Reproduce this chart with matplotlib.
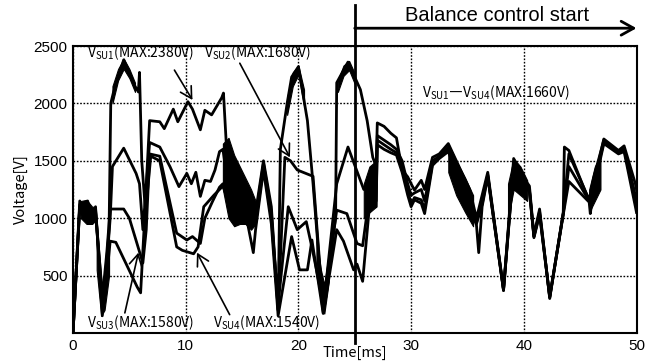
import numpy as np
from matplotlib import pyplot as plt

plt.rcParams['font.family'] = ['Liberation Sans', 'DejaVu Sans']
plt.rcParams['mathtext.fontset'] = 'custom'
plt.rcParams['mathtext.rm'] = 'Noto Sans CJK JP'

# (time [ms], voltage [V])
su1 = [(0, 0), (0.6, 1150), (1.0, 1050), (1.3, 1150), (1.7, 1000), (2.0, 1100), (2.6, 150),
       (3.2, 900), (3.35, 2000), (3.6, 2100), (4.5, 2380), (5.5, 2150), (5.8, 2100), (5.9, 2270),
       (6.1, 1500), (6.4, 1100), (6.8, 1850), (7.7, 1840), (8.1, 1780), (8.9, 1950), (9.3, 1840),
       (10.2, 2015), (10.6, 1950), (11.3, 1770), (11.7, 1940), (12.3, 1900), (13.2, 2050),
       (13.35, 2090), (13.6, 1650), (14.5, 1450), (15.5, 1250), (16.2, 1050), (16.9, 1500),
       (17.6, 1100), (18.2, 200), (18.4, 1600), (19.0, 2000), (19.4, 2230), (20.0, 2320),
       (20.8, 1850), (21.3, 1300), (22.2, 180), (23.3, 1000), (23.4, 2180), (24.4, 2360),
       (25.5, 2120), (26.1, 1850), (26.6, 1530), (26.9, 1450), (27.0, 1830), (27.6, 1800),
       (28.2, 1740), (28.7, 1700), (29.2, 1420), (29.7, 1360), (30.0, 1300), (30.3, 1245),
       (30.9, 1330), (31.2, 1250), (31.9, 1530), (32.5, 1560), (33.3, 1650), (35.2, 1250),
       (35.8, 1000), (36.3, 1200), (36.8, 1400), (38.2, 380), (39.1, 1520), (40.0, 1350),
       (40.5, 1280), (40.9, 850), (41.4, 1080), (42.3, 300), (43.5, 1050), (43.6, 1620),
       (44.0, 1590), (45.8, 1150), (46.2, 1300), (47.1, 1690), (48.4, 1590), (48.9, 1630),
       (49.9, 1300), (50.0, 1250)]
su2 = [(0, 0), (0.6, 1100), (1.0, 1000), (1.3, 1120), (1.7, 980), (2.0, 1050), (2.7, 220),
       (3.3, 1000), (3.5, 1450), (4.5, 1610), (5.6, 1390), (5.9, 1300), (6.2, 900), (6.8, 1660),
       (7.7, 1620), (8.6, 1450), (9.4, 1275), (10.1, 1390), (10.5, 1300), (10.9, 1400),
       (11.3, 1190), (11.7, 1330), (12.2, 1320), (12.6, 1420), (13.0, 1580), (13.3, 1600),
       (13.6, 1400), (14.5, 1250), (15.5, 1150), (16.2, 1000), (16.9, 1480), (17.6, 1050),
       (18.2, 200), (18.8, 1530), (19.3, 1500), (19.9, 1420), (21.3, 1365), (22.2, 200),
       (23.4, 1300), (24.4, 1620), (25.8, 1250), (26.3, 1350), (26.9, 1300), (27.0, 1720),
       (27.6, 1680), (28.2, 1640), (28.7, 1600), (29.2, 1500), (29.7, 1300), (30.0, 1200),
       (30.3, 1220), (30.9, 1250), (31.2, 1150), (31.9, 1500), (32.5, 1540), (33.3, 1620),
       (35.2, 1200), (35.8, 960), (36.3, 1150), (36.8, 1380), (38.2, 370), (39.1, 1480),
       (40.0, 1320), (40.5, 1250), (40.9, 840), (41.4, 1060), (42.3, 310), (43.5, 1040),
       (44.0, 1560), (45.8, 1160), (46.2, 1350), (47.1, 1680), (48.4, 1580), (48.9, 1610),
       (49.9, 1200), (50.0, 1150)]
su3 = [(0, 0), (0.6, 1120), (1.0, 1020), (1.3, 1100), (1.7, 990), (2.0, 1080), (2.6, 300),
       (3.0, 700), (3.3, 1080), (4.5, 1080), (5.0, 1000), (6.2, 610), (6.5, 900), (6.8, 1560),
       (7.7, 1540), (9.2, 870), (10.1, 810), (10.6, 840), (11.3, 780), (11.7, 1000), (12.4, 1150),
       (13.0, 1270), (13.3, 1300), (13.6, 1300), (14.5, 1100), (15.5, 1050), (16.2, 950),
       (16.9, 1450), (17.6, 1000), (18.2, 250), (19.1, 1100), (19.9, 900), (20.7, 970),
       (21.3, 700), (22.2, 250), (23.4, 1070), (24.3, 1040), (25.2, 780), (25.7, 760),
       (26.3, 1200), (26.9, 1150), (27.0, 1680), (27.6, 1640), (28.2, 1600), (28.7, 1570),
       (29.2, 1450), (29.7, 1250), (30.0, 1120), (30.3, 1180), (30.9, 1160), (31.2, 1080),
       (31.9, 1480), (32.5, 1530), (33.3, 1600), (35.2, 1150), (35.8, 950), (36.3, 1120),
       (36.8, 1370), (38.2, 380), (39.1, 1460), (40.0, 1300), (40.5, 1240), (40.9, 840),
       (41.4, 1040), (42.3, 320), (43.5, 1040), (44.0, 1450), (45.8, 1150), (46.2, 1300),
       (47.1, 1660), (48.4, 1570), (48.9, 1600), (49.9, 1150), (50.0, 1100)]
su4 = [(0, 0), (0.6, 1100), (1.0, 1000), (1.3, 1080), (1.7, 970), (2.0, 1060), (2.6, 250),
       (3.0, 500), (3.3, 800), (3.8, 790), (5.7, 400), (6.0, 350), (6.3, 900), (6.9, 1540),
       (7.7, 1500), (9.2, 750), (9.7, 720), (10.7, 690), (11.1, 750), (11.6, 1100), (12.5, 1200),
       (13.0, 1250), (13.3, 1280), (13.6, 1200), (14.5, 1000), (15.5, 950), (16.0, 700),
       (16.2, 900), (16.9, 1420), (17.6, 950), (18.2, 150), (19.4, 840), (20.1, 550),
       (20.8, 550), (21.2, 810), (22.2, 170), (23.4, 900), (24.0, 800), (24.9, 550), (25.2, 600),
       (25.7, 450), (26.3, 1100), (26.9, 1100), (27.0, 1640), (27.6, 1600), (28.2, 1570),
       (28.7, 1550), (29.2, 1400), (29.7, 1200), (30.0, 1100), (30.3, 1160), (30.9, 1130),
       (31.2, 1040), (31.9, 1460), (32.5, 1520), (33.3, 1580), (35.2, 1100), (35.8, 940),
       (36.0, 700), (36.3, 1100), (36.8, 1360), (38.2, 370), (39.1, 1440), (40.0, 1290),
       (40.5, 1230), (40.9, 830), (41.4, 1030), (42.3, 310), (43.5, 1030), (44.0, 1320),
       (45.8, 1140), (45.9, 1040), (46.2, 1250), (47.1, 1650), (48.4, 1560), (48.9, 1580),
       (49.9, 1100), (50.0, 1050)]

# ripple envelopes (switching oscillation), low / high edge
band_0_t = [0.7, 1.2, 1.7, 2.0]
band_0_lo = [1000, 950, 950, 980]
band_0_hi = [1150, 1160, 1100, 1100]
band_v1_t = [2.1, 2.5, 2.8, 3.2]
band_v1_lo = [550, 150, 200, 500]
band_v1_hi = [850, 420, 480, 800]
band_a_t = [13.3, 13.8, 14.3, 14.8, 15.3, 15.8, 16.2]
band_a_lo = [1250, 1000, 930, 950, 950, 900, 950]
band_a_hi = [1650, 1700, 1550, 1450, 1350, 1250, 1150]
band_v2_t = [21.6, 22.0, 22.3, 22.7]
band_v2_lo = [600, 250, 170, 450]
band_v2_hi = [800, 550, 420, 700]
band_b_t = [25.8, 26.3, 26.9]
band_b_lo = [1000, 1050, 1100]
band_b_hi = [1300, 1450, 1500]
band_c_t = [33.3, 34.0, 34.8, 35.5]
band_c_lo = [1400, 1200, 1050, 930]
band_c_hi = [1650, 1500, 1350, 1200]
band_d_t = [38.6, 39.1, 39.7, 40.3]
band_d_lo = [1000, 1250, 1200, 1150]
band_d_hi = [1300, 1520, 1450, 1330]
band_e_t = [45.8, 46.3, 46.8]
band_e_lo = [1050, 1150, 1250]
band_e_hi = [1250, 1450, 1550]
peak1_t = [3.5, 4.0, 4.5, 5.0, 5.5]
peak1_lo = [2000, 2200, 2300, 2220, 2100]
peak1_hi = [2150, 2300, 2390, 2300, 2180]
peak2_t = [19.0, 19.5, 20.0, 20.5]
peak2_lo = [1900, 2150, 2250, 1980]
peak2_hi = [2050, 2270, 2330, 2120]
peak3_t = [23.5, 24.0, 24.5, 25.0]
peak3_lo = [2100, 2240, 2290, 2170]
peak3_hi = [2200, 2330, 2370, 2260]

x_ticks = [0, 10, 20, 30, 40, 50]
y_ticks = [500, 1000, 1500, 2000, 2500]
balance_start = 25

labels = ['V$_{\\mathrm{SU1}}$(MAX:2380V)', 'V$_{\\mathrm{SU2}}$(MAX:1680V)',
          'V$_{\\mathrm{SU3}}$(MAX:1580V)', 'V$_{\\mathrm{SU4}}$(MAX:1540V)']
label_xy = [(1.2, 2440), (11.6, 2440), (1.2, 90), (12.4, 90)]
arrow_tail = [(9.0, 2290), (14.8, 2350), (4.6, 175), (13.9, 160)]
arrow_tip = [(10.6, 2030), (19.25, 1530), (5.8, 700), (11.0, 700)]

fig = plt.figure(figsize=(6.53, 3.62), dpi=100)
ax = fig.add_axes([73 / 653, 1 - 333 / 362, 563.5 / 653, 287 / 362])

for s in [su1, su2, su3, su4]:
    t, v = zip(*s)
    ax.plot(t, v, color='k', lw=2.0, zorder=3)

bands = [(band_0_t, band_0_lo, band_0_hi), (band_v1_t, band_v1_lo, band_v1_hi),
         (band_a_t, band_a_lo, band_a_hi), (band_v2_t, band_v2_lo, band_v2_hi),
         (band_b_t, band_b_lo, band_b_hi), (band_c_t, band_c_lo, band_c_hi),
         (band_d_t, band_d_lo, band_d_hi), (band_e_t, band_e_lo, band_e_hi),
         (peak1_t, peak1_lo, peak1_hi), (peak2_t, peak2_lo, peak2_hi),
         (peak3_t, peak3_lo, peak3_hi)]
for t, lo, hi in bands:
    ax.fill_between(t, lo, hi, color='k', lw=0.8, zorder=3)

ax.set_xlim(0, 50)
ax.set_ylim(0, 2500)
ax.set_xticks(x_ticks)
ax.set_yticks(y_ticks)
ax.tick_params(length=0, labelsize=11, pad=4)
ax.grid(True, color='k', linestyle=(0, (1.2, 1.2)), lw=1.0)
for sp in ax.spines.values():
    sp.set_linewidth(1.5)

ax.set_xlabel('Time[ms]', fontsize=10.5, family='Noto Sans CJK JP')
ax.set_ylabel('Voltage[V]', fontsize=10.5, family='Noto Sans CJK JP')
ax.xaxis.set_label_coords(0.5, -0.045)
ax.yaxis.set_label_coords(-0.08, 0.5)

for lab, xy, tail, tip in zip(labels, label_xy, arrow_tail, arrow_tip):
    ax.text(xy[0], xy[1], lab, fontsize=10, family='Noto Sans CJK JP', ha='left', va='center',
            zorder=5)
    ax.annotate('', xy=tip, xytext=tail,
                arrowprops=dict(arrowstyle='->,head_length=0.8,head_width=0.45', lw=1.2,
                                color='k', shrinkA=0, shrinkB=0), zorder=5)

ax.text(31.0, 2090, 'V$_{\\mathrm{SU1}}$\u2015V$_{\\mathrm{SU4}}$(MAX:1660V)', fontsize=10,
        family='Noto Sans CJK JP', ha='left', va='center', zorder=5)

# balance control start marker
ax.plot([balance_start, balance_start], [-90, 2860], color='k', lw=2.0, clip_on=False, zorder=6)
ax.annotate('', xy=(50, 2655), xytext=(balance_start, 2655), annotation_clip=False,
            arrowprops=dict(arrowstyle='->,head_length=0.9,head_width=0.5', lw=2.0,
                            color='k', shrinkA=0, shrinkB=0))
ax.text(37.6, 2765, 'Balance control start', fontsize=14.5, ha='center', va='center')

fig.savefig('out.png', dpi=100)
